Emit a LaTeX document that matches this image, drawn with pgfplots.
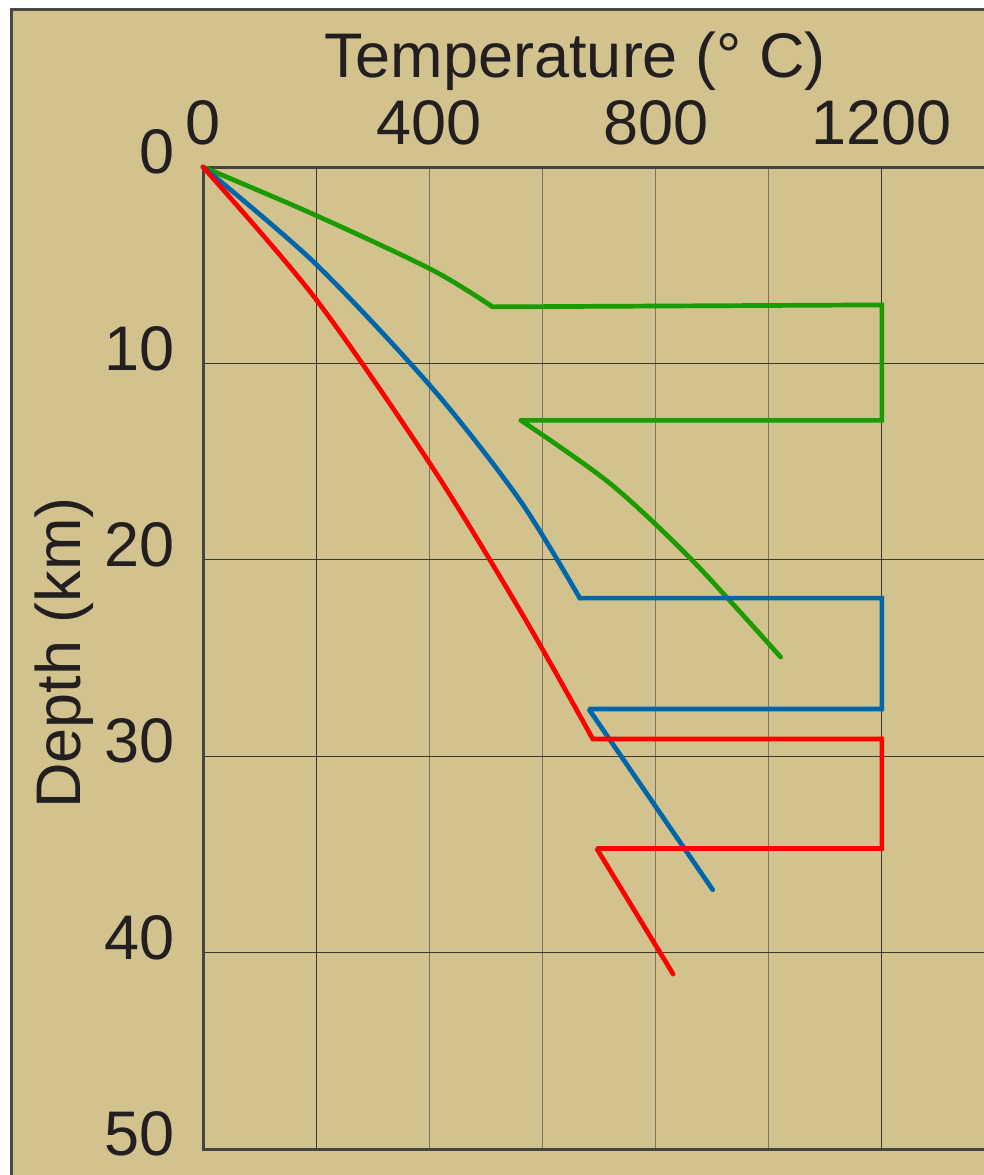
\documentclass[border=0pt]{standalone}
\usepackage{pgfplots}
\pgfplotsset{compat=1.18}
\usepackage{fontspec}
\setmainfont{Liberation Sans}
\definecolor{bgtan}{RGB}{210,194,142}
\definecolor{framegray}{RGB}{72,72,72}
\definecolor{axisgray}{RGB}{68,68,68}
\definecolor{griddark}{RGB}{62,57,46}
\definecolor{gridgray}{RGB}{125,116,96}
\definecolor{cgreen}{RGB}{26,155,0}
\definecolor{cblue}{RGB}{0,102,170}
\definecolor{cred}{RGB}{255,0,0}
\definecolor{txt}{RGB}{35,31,32}
\newcommand{\bigfont}{\fontsize{31.5}{36}\selectfont}
\begin{document}
\begin{tikzpicture}
\useasboundingbox (0,0) rectangle (492pt,-587.5pt);
\fill[bgtan] (5pt,-4pt) rectangle (600pt,-700pt);
\draw[framegray, line width=1.5pt] (5.75pt,-700pt) |- (600pt,-4.75pt);
\begin{axis}[
  scale only axis,
  width=396pt, height=491pt,
  at={(101.5pt,-83.5pt)}, anchor=north west,
  xmin=0, xmax=1400, ymin=0, ymax=50,
  y dir=reverse,
  axis line style={draw=axisgray, line width=1.5pt},
  xtick={0,400,800,1200},
  minor xtick={200,600,1000},
  ytick={0,10,20,30,40,50},
  xticklabel pos=upper,
  major tick length=0pt, minor tick length=0pt,
  tick style={draw=none},
  grid=both,
  major grid style={draw=gridgray, line width=0.6pt},
  minor grid style={draw=gridgray, line width=0.6pt},
  every major y grid/.style={draw=griddark, line width=0.5pt},
  extra x ticks={200,1200},
  extra x tick labels={},
  extra x tick style={grid=major, every major x grid/.style={draw=griddark, line width=0.5pt}},
  /pgf/number format/assume math mode=true,
  /pgf/number format/1000 sep={},
  ticklabel style={font=\bigfont, text=txt},
  xticklabel style={anchor=south, inner sep=0pt, yshift=11pt},
  yticklabel style={anchor=east, inner sep=0pt, xshift=-14pt, yshift=7.5pt},
  clip=false,
  every axis plot/.append style={line width=2.35pt, line join=miter, miter limit=2, line cap=round},
]
% green
\addplot[cgreen, smooth, tension=0.5] coordinates {
 (0,0) (198,2.44) (405,5.24) (512,7.12)
};
\addplot[cgreen] coordinates {
 (512,7.12) (1200,7.02) (1200,12.9) (562,12.9)
};
\addplot[cgreen, smooth, tension=0.5] coordinates {
 (562,12.9) (719,16.1) (864,20.0) (1021,24.95)
};
% blue
\addplot[cblue, smooth, tension=0.5] coordinates {
 (0,0) (198,4.9) (405,11.25) (560,16.96) (666,21.95)
};
\addplot[cblue] coordinates {
 (666,21.95) (1200,21.95) (1200,27.6) (682,27.6) (901,36.8)
};
% red
\addplot[cred, smooth, tension=0.5] coordinates {
 (0,0) (198,6.67) (405,15.27) (565,22.8) (689,29.12)
};
\addplot[cred] coordinates {
 (689,29.12) (1200,29.12) (1200,34.7) (696,34.7) (831,41.09)
};
\end{axis}
\node[font=\bigfont, text=txt, anchor=base] at (287.5pt,-38.5pt) {Temperature (° C)};
\node[font=\bigfont, text=txt, rotate=90, anchor=base] at (40pt,-326.5pt) {Depth (km)};
\end{tikzpicture}
\end{document}
